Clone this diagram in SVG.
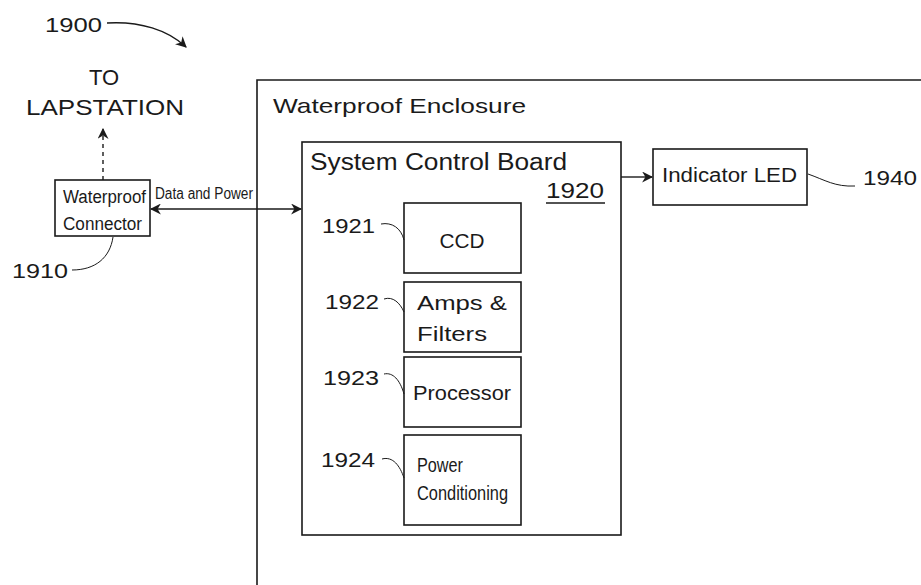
<svg xmlns="http://www.w3.org/2000/svg" width="921" height="585" viewBox="0 0 921 585">
<defs>
<style>
.box{fill:none;stroke:#1a1a1a;stroke-width:1.6}
.ln{fill:none;stroke:#1a1a1a;stroke-width:1.4}
.ld{fill:none;stroke:#1a1a1a;stroke-width:1}
.t{font-family:"Liberation Sans",Arial,sans-serif;fill:#1a1a1a}
</style>
<marker id="ah" viewBox="0 0 10 10" refX="9" refY="5" markerWidth="11" markerHeight="11" markerUnits="userSpaceOnUse" orient="auto-start-reverse">
<path d="M0,0 L10,5 L0,10 L3,5 Z" fill="#1a1a1a"/>
</marker>
</defs>
<rect width="921" height="585" fill="#fff"/>

<g id="label-1900">
<text class="t" x="45" y="32" font-size="21" textLength="57" lengthAdjust="spacingAndGlyphs">1900</text>
</g>

<g id="lapstation">
<text class="t" x="104" y="85" font-size="22" text-anchor="middle">TO</text>
<text class="t" x="26" y="115" font-size="22" textLength="158" lengthAdjust="spacingAndGlyphs">LAPSTATION</text>
</g>

<g id="enclosure">
<path class="box" d="M257,585 L257,80 L921,80"/>
<text class="t" x="273" y="113" font-size="21" textLength="253" lengthAdjust="spacingAndGlyphs">Waterproof Enclosure</text>
</g>

<g id="node-1910">
<rect class="box" x="55" y="180" width="95" height="56"/>
<text class="t" x="63" y="203" font-size="18" textLength="83" lengthAdjust="spacingAndGlyphs">Waterproof</text>
<text class="t" x="63" y="230" font-size="18" textLength="79" lengthAdjust="spacingAndGlyphs">Connector</text>
<text class="t" x="12" y="278" font-size="21" textLength="56" lengthAdjust="spacingAndGlyphs">1910</text>
</g>

<g id="node-1920">
<rect class="box" x="302" y="142" width="319" height="393"/>
<text class="t" x="310" y="170" font-size="23" textLength="257" lengthAdjust="spacingAndGlyphs">System Control Board</text>
<text class="t" x="546" y="198" font-size="22" textLength="58" lengthAdjust="spacingAndGlyphs">1920</text>
<line class="ln" x1="546" y1="203" x2="605" y2="203"/>
</g>

<g id="node-1921">
<rect class="box" x="404" y="203" width="117" height="70"/>
<text class="t" x="462" y="248" font-size="20" text-anchor="middle" textLength="45" lengthAdjust="spacingAndGlyphs">CCD</text>
<text class="t" x="322" y="233" font-size="21" textLength="53" lengthAdjust="spacingAndGlyphs">1921</text>
</g>

<g id="node-1922">
<rect class="box" x="404" y="282" width="117" height="70"/>
<text class="t" x="417" y="310" font-size="21" textLength="90" lengthAdjust="spacingAndGlyphs">Amps &amp;</text>
<text class="t" x="417" y="341" font-size="21" textLength="70" lengthAdjust="spacingAndGlyphs">Filters</text>
<text class="t" x="325" y="309" font-size="21" textLength="54" lengthAdjust="spacingAndGlyphs">1922</text>
</g>

<g id="node-1923">
<rect class="box" x="404" y="357" width="117" height="70"/>
<text class="t" x="413" y="400" font-size="21" textLength="98" lengthAdjust="spacingAndGlyphs">Processor</text>
<text class="t" x="323" y="385" font-size="21" textLength="56" lengthAdjust="spacingAndGlyphs">1923</text>
</g>

<g id="node-1924">
<rect class="box" x="404" y="435" width="117" height="90"/>
<text class="t" x="417" y="472" font-size="20" textLength="46" lengthAdjust="spacingAndGlyphs">Power</text>
<text class="t" x="417" y="500" font-size="20" textLength="91" lengthAdjust="spacingAndGlyphs">Conditioning</text>
<text class="t" x="321" y="467" font-size="21" textLength="54" lengthAdjust="spacingAndGlyphs">1924</text>
</g>

<g id="node-1940">
<rect class="box" x="653" y="149" width="154" height="56"/>
<text class="t" x="662" y="182" font-size="20" textLength="135" lengthAdjust="spacingAndGlyphs">Indicator LED</text>
<text class="t" x="863" y="185" font-size="21" textLength="54" lengthAdjust="spacingAndGlyphs">1940</text>
</g>

<g id="connectors">
<path class="ln" d="M107,23 C140,21 168,30 186,47" marker-end="url(#ah)"/>
<line class="ln" x1="103" y1="180" x2="103" y2="129" stroke-dasharray="4,4" marker-end="url(#ah)"/>
<line class="ln" x1="151" y1="209" x2="301" y2="209" marker-start="url(#ah)" marker-end="url(#ah)"/>
<text class="t" x="155" y="199" font-size="16" textLength="98" lengthAdjust="spacingAndGlyphs">Data and Power</text>
<line class="ln" x1="621" y1="177" x2="652" y2="177" marker-end="url(#ah)"/>
<path class="ld" d="M72,270 C95,270 110,258 113,237"/>
<path class="ld" d="M808,174 C825,180 835,187 855,186"/>
<path class="ld" d="M381,224 C392,222 401,228 404,240"/>
<path class="ld" d="M384,299 C393,296 400,303 404,312"/>
<path class="ld" d="M384,374 C393,372 400,380 404,394"/>
<path class="ld" d="M382,459 C393,456 400,466 404,478"/>
</g>
</svg>
